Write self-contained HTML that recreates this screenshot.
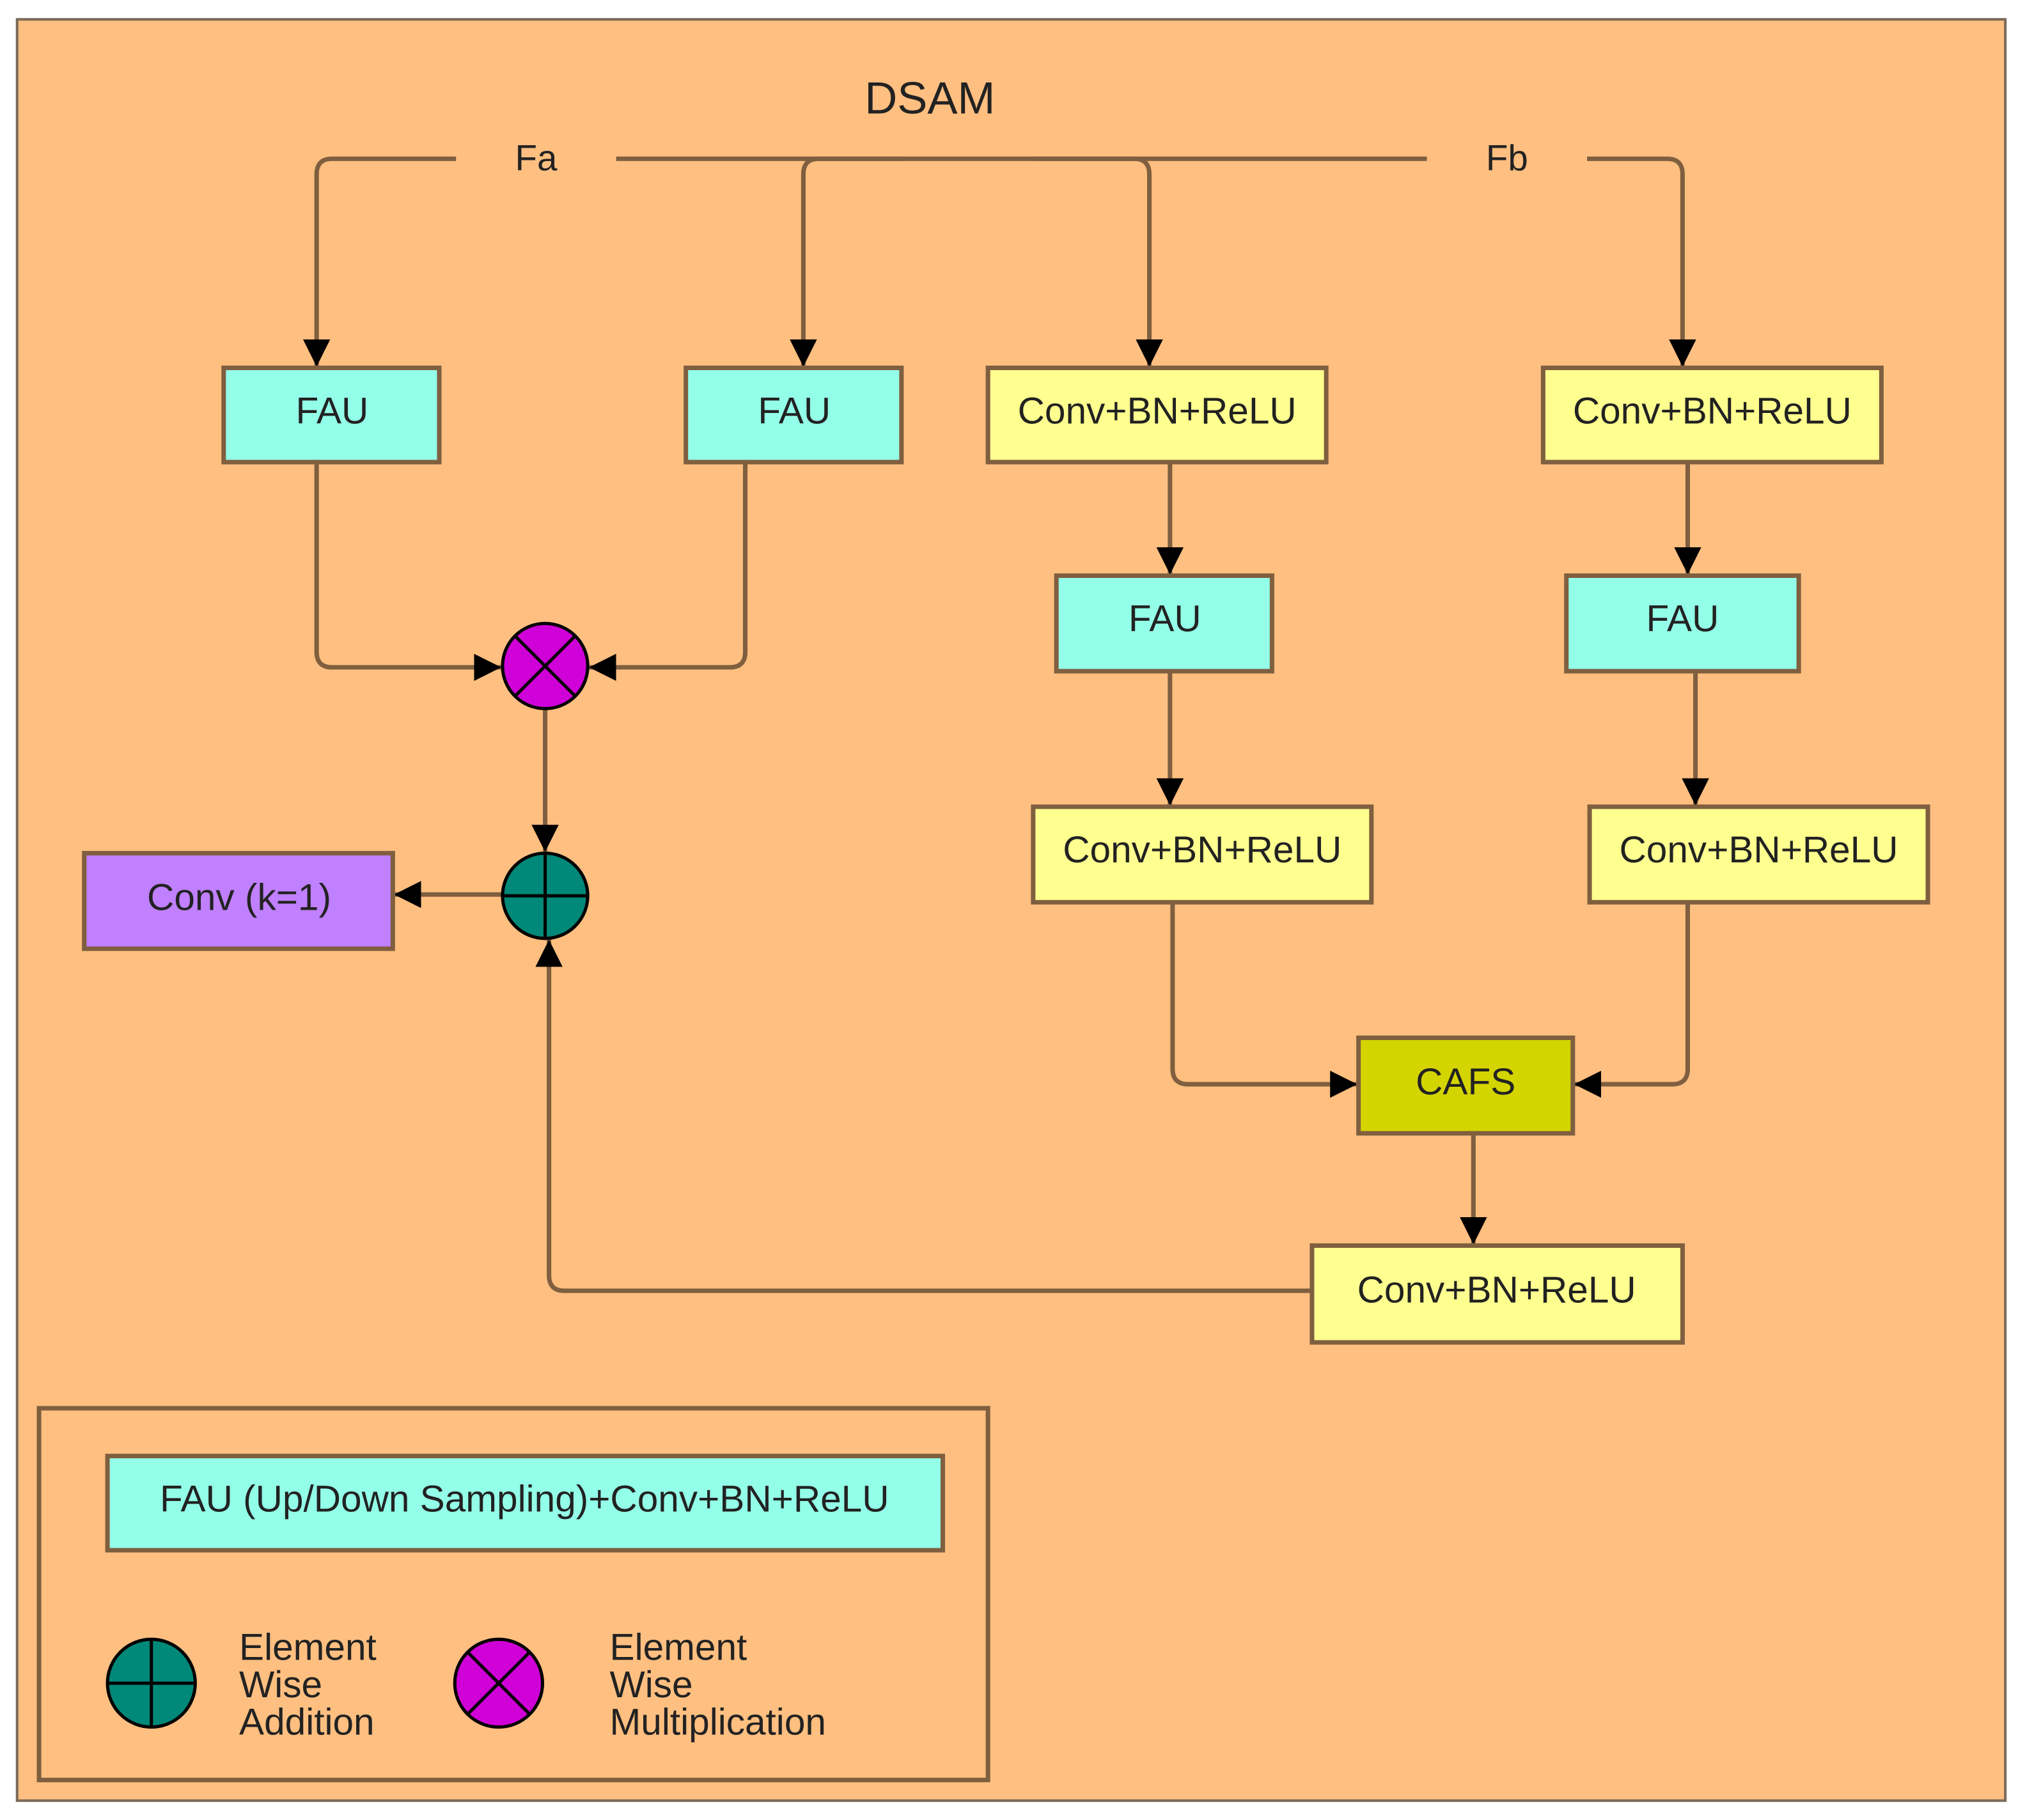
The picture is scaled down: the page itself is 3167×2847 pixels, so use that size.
<!DOCTYPE html>
<html><head><meta charset="utf-8"><style>
html,body{margin:0;padding:0;background:#fff;}
svg{display:block;}
text{font-family:"Liberation Sans",sans-serif;fill:#222;}
</style></head><body>
<svg width="3167" height="2847" viewBox="0 0 1568 1410" xmlns="http://www.w3.org/2000/svg">
<defs>
<marker id="a" viewBox="0 0 10 10" refX="10" refY="5" markerWidth="6" markerHeight="6" markerUnits="strokeWidth" orient="auto">
<path d="M0,0 L10,5 L0,10 z" fill="#000"/></marker>
</defs>
<rect x="0" y="0" width="1568" height="1410" fill="#fff"/>
<rect x="13" y="15" width="1540" height="1380" fill="#FFBF80" stroke="#7a6a5a" stroke-width="2"/>
<text x="720" y="88" font-size="35" text-anchor="middle">DSAM</text>
<text x="415" y="132" font-size="28" text-anchor="middle">Fa</text>
<text x="1167" y="132" font-size="28" text-anchor="middle">Fb</text>
<g fill="none" stroke="#7f5f3f" stroke-width="3.5">
<line x1="477" y1="123" x2="1105" y2="123"/>
<path d="M353,123 H257 Q245,123 245,135 V284" marker-end="url(#a)"/>
<path d="M700,123 H634 Q622,123 622,135 V284" marker-end="url(#a)"/>
<path d="M800,123 H878 Q890,123 890,135 V284" marker-end="url(#a)"/>
<path d="M1229,123 H1291 Q1303,123 1303,135 V284" marker-end="url(#a)"/>
<path d="M245,358 V505 Q245,517 257,517 H388" marker-end="url(#a)"/>
<path d="M577,358 V505 Q577,517 565,517 H456" marker-end="url(#a)"/>
<path d="M422,549 V660" marker-end="url(#a)"/>
<path d="M389,693 H305" marker-end="url(#a)"/>
<path d="M1016,1000 H437 Q425,1000 425,988 V728" marker-end="url(#a)"/>
<path d="M906,358 V445" marker-end="url(#a)"/>
<path d="M906,520 V624" marker-end="url(#a)"/>
<path d="M1307,358 V445" marker-end="url(#a)"/>
<path d="M1313,520 V624" marker-end="url(#a)"/>
<path d="M908,699 V828 Q908,840 920,840 H1051" marker-end="url(#a)"/>
<path d="M1307,699 V828 Q1307,840 1295,840 H1219" marker-end="url(#a)"/>
<path d="M1141,878 V964" marker-end="url(#a)"/>
</g>
<g stroke="#7f5f3f" stroke-width="3.5">
<rect x="173" y="285" width="167" height="73" fill="#94FFE8"/>
<rect x="531" y="285" width="167" height="73" fill="#94FFE8"/>
<rect x="765" y="285" width="262" height="73" fill="#FFFF90"/>
<rect x="1195" y="285" width="262" height="73" fill="#FFFF90"/>
<rect x="818" y="446" width="167" height="74" fill="#94FFE8"/>
<rect x="1213" y="446" width="180" height="74" fill="#94FFE8"/>
<rect x="800" y="625" width="262" height="74" fill="#FFFF90"/>
<rect x="1231" y="625" width="262" height="74" fill="#FFFF90"/>
<rect x="1052" y="804" width="166" height="74" fill="#D4D400"/>
<rect x="1016" y="965" width="287" height="75" fill="#FFFF90"/>
<rect x="65" y="661" width="239" height="74" fill="#C080FF"/>
<rect x="30" y="1091" width="735" height="288" fill="none"/>
<rect x="83" y="1128" width="647" height="73" fill="#94FFE8"/>
</g>
<g font-size="29" text-anchor="middle">
<text x="257" y="328">FAU</text>
<text x="615" y="328">FAU</text>
<text x="896" y="328">Conv+BN+ReLU</text>
<text x="1326" y="328">Conv+BN+ReLU</text>
<text x="902" y="489">FAU</text>
<text x="1303" y="489">FAU</text>
<text x="931" y="668">Conv+BN+ReLU</text>
<text x="1362" y="668">Conv+BN+ReLU</text>
<text x="1135" y="848">CAFS</text>
<text x="1159" y="1009">Conv+BN+ReLU</text>
<text x="185" y="705">Conv (k=1)</text>
<text x="406" y="1171">FAU (Up/Down Sampling)+Conv+BN+ReLU</text>
</g>
<g stroke="#000" stroke-width="2.5">
<circle cx="422" cy="516" r="33" fill="#D000D8"/>
<line x1="399" y1="493" x2="445" y2="539"/><line x1="445" y1="493" x2="399" y2="539"/>
<circle cx="422" cy="694" r="33" fill="#008878"/>
<line x1="389" y1="694" x2="455" y2="694"/><line x1="422" y1="661" x2="422" y2="727"/>
<circle cx="117" cy="1304" r="34" fill="#008878"/>
<line x1="83" y1="1304" x2="151" y2="1304"/><line x1="117" y1="1270" x2="117" y2="1338"/>
<circle cx="386" cy="1304" r="34" fill="#D000D8"/>
<line x1="362" y1="1280" x2="410" y2="1328"/><line x1="410" y1="1280" x2="362" y2="1328"/>
</g>
<g font-size="29">
<text x="185" y="1286">Element</text><text x="185" y="1315">Wise</text><text x="185" y="1344">Addition</text>
<text x="472" y="1286">Element</text><text x="472" y="1315">Wise</text><text x="472" y="1344">Multiplication</text>
</g>
</svg>
</body></html>
